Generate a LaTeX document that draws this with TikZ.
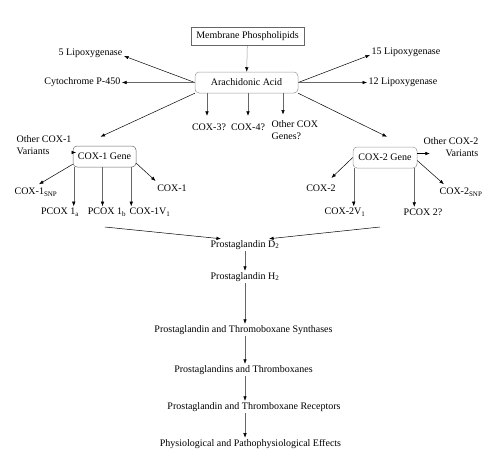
\documentclass[tikz,border=0pt]{standalone}
\usepackage{fontspec}
\setmainfont{Liberation Serif}
\usetikzlibrary{arrows.meta, positioning}

\begin{document}
\begin{tikzpicture}[
    x=1pt, y=-1pt,
    font=\fontsize{10}{12.5}\selectfont,
    src/.style = {rectangle, draw=black!60, dash pattern=on 0.5pt off 0.5pt,
                  line width=0.6pt, minimum height=18pt, inner sep=2pt},
    gene/.style = {rectangle, rounded corners=4pt, draw=black!60, line width=0.5pt,
                   minimum height=21pt, inner sep=2pt},
    lbl/.style = {inner sep=1.5pt},
    arrow/.style = {-{Latex[length=4.5pt,width=3.5pt,color=black]}, line width=0.5pt},
    dotarrow/.style = {arrow, draw=black!60, dash pattern=on 0.5pt off 0.5pt}
  ]
  \useasboundingbox (0,0) rectangle (500,467);

  % top of the cascade
  \node[src, minimum width=113pt] (mp) at (247.5,36) {Membrane Phospholipids};
  \node[gene, dash pattern=on 0.5pt off 0.5pt, minimum width=103pt] (aa) at (246.5,82.5) {Arachidonic Acid};

  \node[lbl, anchor=east] (lip5)  at (124,53)   {5 Lipoxygenase};
  \node[lbl, anchor=east] (cyt)   at (122,82.5) {Cytochrome P-450};
  \node[lbl, anchor=west] (lip15) at (370,52)   {15 Lipoxygenase};
  \node[lbl, anchor=west] (lip12) at (367,82.5) {12 Lipoxygenase};

  \node[lbl] (cox3) at (209,127) {COX-3?};
  \node[lbl] (cox4) at (248,127) {COX-4?};
  \node[lbl, anchor=west, align=left] (coxo) at (270,130) {Other COX\\Genes?};
  \path (coxo.north west) ++(13,-4) coordinate (coxtop);

  % COX-1 branch
  \node[gene, minimum width=63pt] (cox1) at (104.5,156.5) {COX-1 Gene};
  \node[lbl, anchor=west, align=left] (ocv1) at (15,145) {Other COX-1\\Variants};
  \node[lbl] (c1snp) at (36,192) {COX-1\textsubscript{SNP}};
  \node[lbl] (c1)    at (172,188) {COX-1};
  \node[lbl] (p1a)   at (60,212)  {PCOX 1\textsubscript{a}};
  \node[lbl] (p1b)   at (107,212) {PCOX 1\textsubscript{b}};
  \node[lbl] (c1v)   at (150,212) {COX-1V\textsubscript{1}};

  % COX-2 branch
  \node[gene, dash pattern=on 0.5pt off 0.5pt, minimum width=64pt] (cox2) at (385,157.5) {COX-2 Gene};
  \node[lbl, anchor=east, align=right] (ocv2) at (480,147) {Other COX-2\\Variants};
  \node[lbl] (c2)    at (321,188) {COX-2};
  \node[lbl] (c2snp) at (461,192) {COX-2\textsubscript{SNP}};
  \node[lbl] (c2v)   at (345,212) {COX-2V\textsubscript{1}};
  \node[lbl] (p2)    at (423,212) {PCOX 2?};

  % main column
  \node[lbl] (d2)  at (245,245) {Prostaglandin D\textsubscript{2}};
  \node[lbl] (h2)  at (245,277) {Prostaglandin H\textsubscript{2}};
  \node[lbl] (syn) at (243.5,330) {Prostaglandin and Thromoboxane Synthases};
  \node[lbl] (pt)  at (243.5,370) {Prostaglandins and Thromboxanes};
  \node[lbl] (rec) at (254,407) {Prostaglandin and Thromboxane Receptors};
  \node[lbl] (eff) at (250.5,444) {Physiological and Pathophysiological Effects};

  \coordinate (lin) at (105,227);
  \coordinate (rin) at (380,227);

  % connectors
  \draw[dotarrow] (mp) -- (aa);
  \draw[arrow] (aa.west) -- ([yshift=-3pt]lip5.east);
  \draw[dotarrow] (aa.west) -- (cyt.east);
  \draw[arrow] (aa.east) -- ([yshift=-3pt]lip15.west);
  \draw[dotarrow] (aa.east) -- (lip12.west);
  \draw[dotarrow] ([xshift=-2pt]cox3.north |- aa.south) -- ([xshift=-2pt,yshift=6pt]cox3.north);
  \draw[dotarrow] (cox4.north |- aa.south) -- ([yshift=6pt]cox4.north);
  \draw[dotarrow] (coxtop |- aa.south) -- (coxtop);
  \draw[arrow] (aa.south west) -- ([xshift=-4pt,yshift=9pt]cox1.north);
  \draw[arrow] (aa.south east) -- ([xshift=2pt,yshift=10pt]cox2.north);

  \draw[arrow] ([yshift=4pt]cox1.west) -- ([yshift=4pt,xshift=3pt]cox1.west -| ocv1.east);
  \draw[arrow] ([yshift=3pt]cox1.south west) -- ([xshift=3pt,yshift=2pt]c1snp.north);
  \draw[arrow] ([yshift=4pt]cox1.south east) -- ([yshift=2pt]c1.north west);
  \draw[dotarrow] ([xshift=1pt]cox1.south west) -- ([xshift=1pt]cox1.south west |- p1a.north);
  \draw[dotarrow] ([xshift=-2pt]cox1.south) -- ([xshift=-2pt]cox1.south |- p1b.north);
  \draw[dotarrow] ([xshift=-5pt]cox1.south east) -- ([xshift=-5pt]cox1.south east |- c1v.north);

  \draw[arrow] ([yshift=4pt]cox2.east) -- ([yshift=4pt,xshift=8pt]cox2.east -| ocv2.west);
  \draw[arrow] (cox2.west) -- ([xshift=-6pt,yshift=5pt]c2.north east);
  \draw[arrow] ([yshift=-3pt]cox2.east) -- ([xshift=6pt,yshift=2pt]c2snp.north west);
  \draw[dotarrow] ([xshift=1pt]cox2.south west) -- ([xshift=1pt]cox2.south west |- c2v.north);
  \draw[dotarrow] ([xshift=-3pt]cox2.south east) -- ([xshift=-3pt]cox2.south east |- p2.north);

  \draw[arrow] (lin) -- ([xshift=12pt]d2.north west);
  \draw[arrow] (rin) -- ([xshift=-12pt]d2.north east);
  \draw[dotarrow] (d2.south) -- (h2.north);
  \draw[dotarrow] (h2.south) -- (h2.south |- syn.north);
  \draw[dotarrow] (h2.south |- syn.south) -- (h2.south |- pt.north);
  \draw[dotarrow] (h2.south |- pt.south) -- (h2.south |- rec.north);
  \draw[dotarrow] (h2.south |- rec.south) -- (h2.south |- eff.north);
\end{tikzpicture}
\end{document}
